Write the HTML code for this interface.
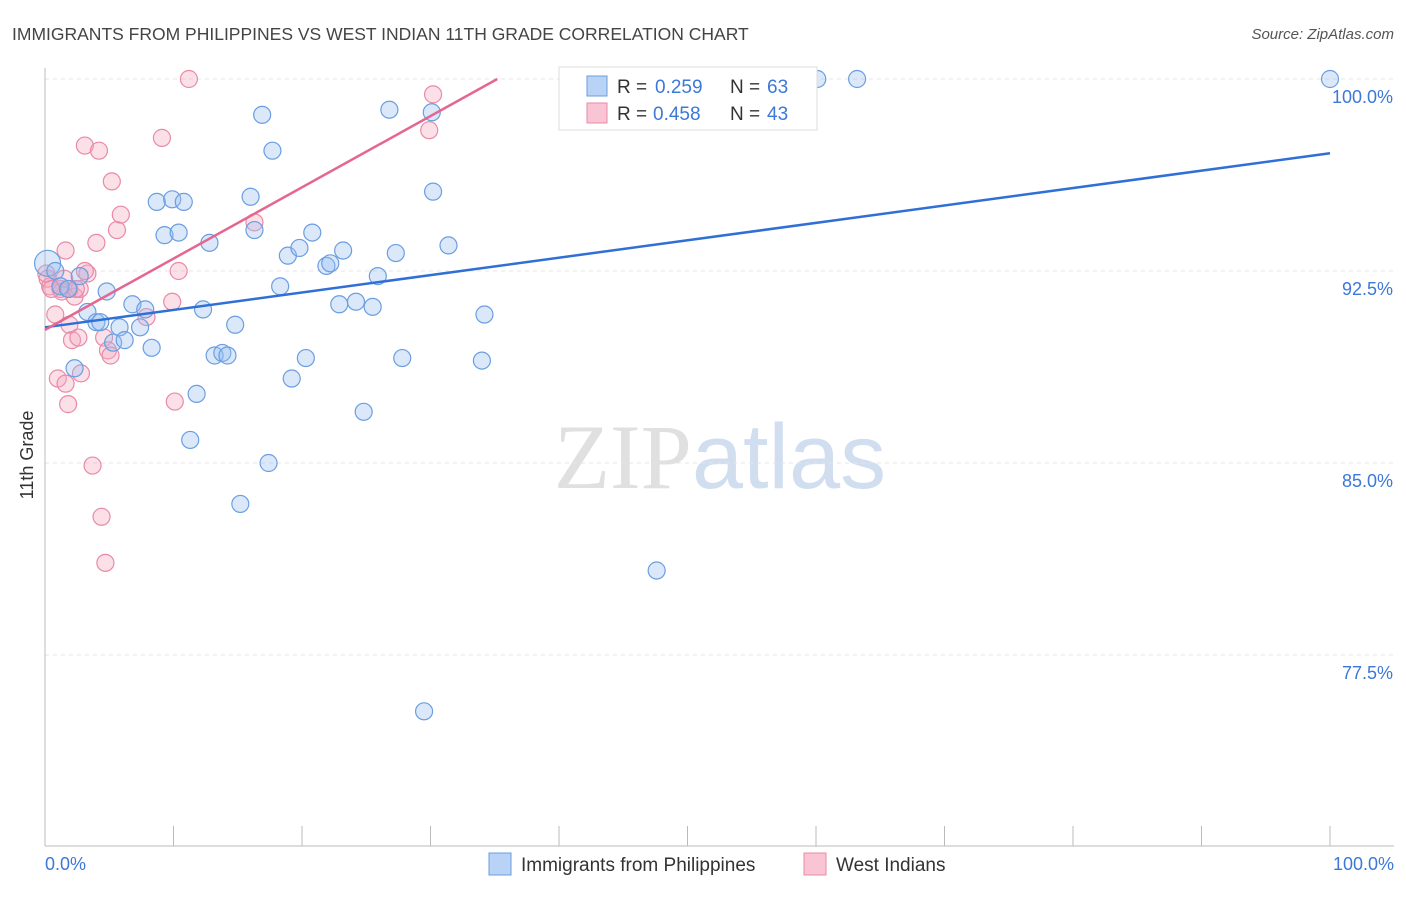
<!DOCTYPE html>
<html><head><meta charset="utf-8"><style>
body{margin:0;background:#fff;font-family:"Liberation Sans",sans-serif;}
svg text{font-family:"Liberation Sans",sans-serif;}
</style></head><body>
<svg id="chart" width="1406" height="892" xmlns="http://www.w3.org/2000/svg">
<text x="12" y="40" font-size="17.5" fill="#444">IMMIGRANTS FROM PHILIPPINES VS WEST INDIAN 11TH GRADE CORRELATION CHART</text>
<text x="1394" y="39" font-size="15" fill="#555" text-anchor="end" font-style="italic">Source: ZipAtlas.com</text>
<text x="720" y="488" font-size="92" text-anchor="middle"><tspan fill="#e0e0e0" font-family="Liberation Serif">ZIP</tspan><tspan fill="#d0deef">atlas</tspan></text>
<g id="grid"></g><g id="axes"></g><g id="pts"></g><g id="lines"></g>
<text transform="translate(33,455) rotate(-90)" font-size="18" fill="#333" text-anchor="middle">11th Grade</text>
<g>
<rect x="559" y="67" width="258" height="63" fill="#fff" stroke="#ddd"/>
<rect x="587" y="76" width="20" height="20" fill="#b8d3f5" stroke="#6b9ee0"/>
<text x="617" y="93" font-size="19" fill="#333">R = </text><text x="655" y="93" font-size="19" fill="#3b78d8">0.259</text>
<text x="730" y="93" font-size="19" fill="#333">N = </text><text x="767" y="93" font-size="19" fill="#3b78d8">63</text>
<rect x="587" y="103" width="20" height="20" fill="#f9c5d4" stroke="#e98aa8"/>
<text x="617" y="120" font-size="19" fill="#333">R = </text><text x="653" y="120" font-size="19" fill="#3b78d8">0.458</text>
<text x="730" y="120" font-size="19" fill="#333">N = </text><text x="767" y="120" font-size="19" fill="#3b78d8">43</text>
</g>
<g>
<rect x="489" y="853" width="22" height="22" fill="#b8d3f5" stroke="#6b9ee0"/>
<text x="521" y="871" font-size="19" fill="#333">Immigrants from Philippines</text>
<rect x="804" y="853" width="22" height="22" fill="#f9c5d4" stroke="#e98aa8"/>
<text x="836" y="871" font-size="19" fill="#333">West Indians</text>
</g>
</svg>
<script>
const yTicks=[100,92.5,85,77.5];
const yTickLabels=["100.0%","92.5%","85.0%","77.5%"];
const xTickLabels=["0.0%","100.0%"];
const blueX=[0.2,0.8,1.2,1.8,2.7,3.3,4.0,4.3,4.8,5.3,5.8,6.2,6.8,7.4,7.8,8.3,8.7,9.3,9.9,10.4,10.8,11.3,11.8,12.3,12.8,13.2,13.8,14.2,14.8,15.2,16.0,16.3,16.9,17.4,17.7,18.3,18.9,19.2,19.8,20.3,20.8,21.9,22.2,22.9,23.2,24.2,24.8,25.5,25.9,26.8,27.3,27.8,29.5,30.1,30.2,31.4,34.0,34.2,47.6,60.1,63.2,100,2.3];
const blueY=[92.8,92.5,91.9,91.8,92.3,90.9,90.5,90.5,91.7,89.7,90.3,89.8,91.2,90.3,91.0,89.5,95.2,93.9,95.3,94.0,95.2,85.9,87.7,91.0,93.6,89.2,89.3,89.2,90.4,83.4,95.4,94.1,98.6,85.0,97.2,91.9,93.1,88.3,93.4,89.1,94.0,92.7,92.8,91.2,93.3,91.3,87.0,91.1,92.3,98.8,93.2,89.1,75.3,98.7,95.6,93.5,89.0,90.8,80.8,100,100,100,88.7];
const pinkX=[0.2,0.4,0.8,1.0,1.2,1.3,1.6,1.6,1.8,1.9,2.1,2.3,2.6,2.7,2.8,3.1,3.3,3.7,4.0,4.2,4.4,4.6,4.7,4.9,5.1,5.2,5.6,5.9,7.9,9.1,9.9,10.1,10.4,11.2,16.3,29.9,30.2,0.5,0.1,1.9,3.1,1.5,2.4];
const pinkY=[92.2,91.9,90.8,88.3,91.8,91.7,93.3,88.1,87.3,90.4,89.8,91.5,89.9,91.8,88.5,97.4,92.4,84.9,93.6,97.2,82.9,89.9,81.1,89.4,89.2,96.0,94.1,94.7,90.7,97.7,91.3,87.4,92.5,100,94.4,98.0,99.4,91.8,92.4,91.8,92.5,92.2,91.8];
const blueLine=[[0,90.3],[100,97.1]];
const pinkLine=[[0,90.2],[35.2,100]];
const X0=45,X1=1330,Y100=79,PPU=25.6;
const xs=v=>X0+(X1-X0)*v/100, ys=v=>Y100+(100-v)*PPU;
const NS="http://www.w3.org/2000/svg";
function mk(p,t,a){const e=document.createElementNS(NS,t);for(const k in a)e.setAttribute(k,a[k]);p.appendChild(e);return e;}
const grid=document.getElementById('grid'),axes=document.getElementById('axes'),pts=document.getElementById('pts'),lines=document.getElementById('lines');
yTicks.forEach((t,i)=>{
 const g=mk(grid,'line',{x1:45,x2:1394,y1:ys(t),y2:ys(t),stroke:'#e4e4e4','stroke-dasharray':'4,4'});
 
 
 const l=mk(axes,'text',{x:1393,y:ys(t)+24,'font-size':18,fill:'#3b78d8','text-anchor':'end'});l.textContent=yTickLabels[i];
 
 
});
const ax=mk(axes,'line',{x1:45,x2:45,y1:68,y2:846,stroke:'#bbb'});


const bx=mk(axes,'line',{x1:45,x2:1394,y1:846,y2:846,stroke:'#bbb'});


for(let i=0;i<=10;i++){const t=mk(axes,'line',{x1:xs(i*10),x2:xs(i*10),y1:826,y2:846,stroke:'#bbb'});
 
 }
[[0,'start',45],[100,'end',1394]].forEach((d,i)=>{const l=mk(axes,'text',{x:d[2],y:870,'font-size':18,fill:'#3b78d8','text-anchor':d[1]});l.textContent=xTickLabels[i];
 
 });
pinkX.forEach((x,i)=>{const c=mk(pts,'circle',{cx:xs(x),cy:ys(pinkY[i]),r:8.5,fill:'rgba(244,167,190,0.35)',stroke:'#e98aa8','stroke-width':1.2});
 
 });
blueX.forEach((x,i)=>{const c=mk(pts,'circle',{cx:xs(x),cy:ys(blueY[i]),r:i==0?13:8.5,fill:'rgba(150,190,240,0.35)',stroke:'#6b9ee0','stroke-width':1.2});
 
 });
const b=mk(lines,'line',{x1:xs(blueLine[0][0]),y1:ys(blueLine[0][1]),x2:xs(blueLine[1][0]),y2:ys(blueLine[1][1]),stroke:'#2f6fd6','stroke-width':2.5});


const p=mk(lines,'line',{x1:xs(pinkLine[0][0]),y1:ys(pinkLine[0][1]),x2:xs(pinkLine[1][0]),y2:ys(pinkLine[1][1]),stroke:'#e56690','stroke-width':2.5});


</script>
</body></html>
